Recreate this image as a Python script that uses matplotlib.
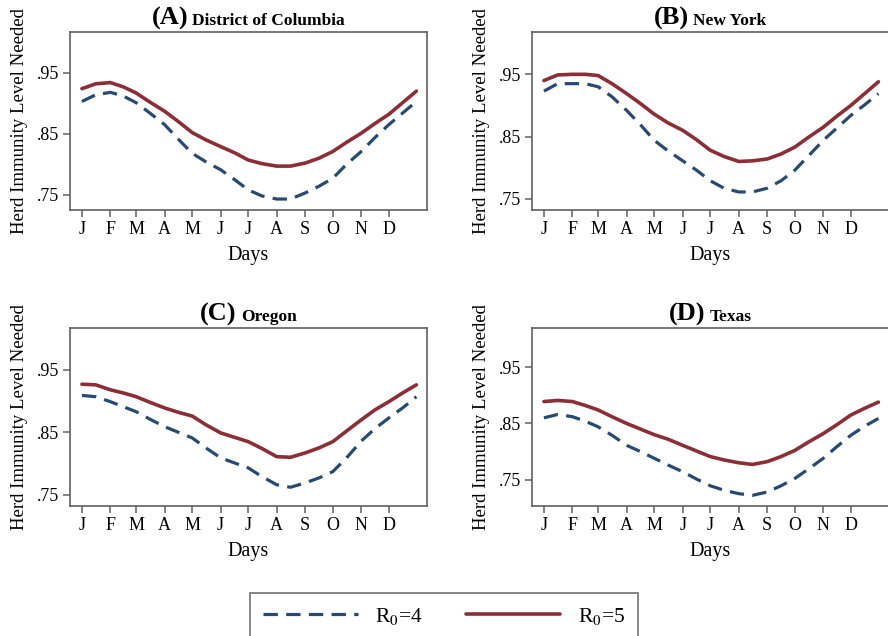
import matplotlib
matplotlib.use('Agg')
import matplotlib.pyplot as plt
from matplotlib.offsetbox import TextArea, HPacker, AnchoredOffsetbox

plt.rcParams['font.family'] = ['Liberation Serif', 'DejaVu Serif']
plt.rcParams['mathtext.fontset'] = 'stix'

# day of year for each reading (start and middle of each month, then year end)
days = [1, 16, 32, 46, 60, 75, 91, 106, 121, 136, 152, 167, 182,
        197, 213, 228, 244, 259, 274, 289, 305, 320, 335, 350, 365]
month_ticks = [1, 32, 60, 91, 121, 152, 182, 213, 244, 274, 305, 335]
month_labels = ['J', 'F', 'M', 'A', 'M', 'J', 'J', 'A', 'S', 'O', 'N', 'D']

# herd immunity needed, R0 = 4 (dashed) and R0 = 5 (solid)
dc_r4 = [0.903, 0.914, 0.918, 0.912, 0.901, 0.884, 0.865, 0.841, 0.818, 0.804, 0.791, 0.775, 0.758,
         0.748, 0.743, 0.743, 0.753, 0.764, 0.777, 0.800, 0.821, 0.844, 0.865, 0.884, 0.903]
dc_r5 = [0.924, 0.932, 0.934, 0.927, 0.917, 0.902, 0.887, 0.870, 0.852, 0.840, 0.829, 0.819, 0.807,
         0.801, 0.797, 0.797, 0.802, 0.810, 0.821, 0.836, 0.851, 0.867, 0.882, 0.901, 0.920]
ny_r4 = [0.923, 0.935, 0.935, 0.935, 0.930, 0.914, 0.892, 0.869, 0.844, 0.827, 0.811, 0.796, 0.779,
         0.767, 0.761, 0.761, 0.767, 0.779, 0.796, 0.819, 0.844, 0.864, 0.884, 0.901, 0.919]
ny_r5 = [0.940, 0.949, 0.950, 0.950, 0.948, 0.935, 0.919, 0.903, 0.886, 0.872, 0.860, 0.845, 0.828,
         0.818, 0.810, 0.811, 0.814, 0.822, 0.833, 0.849, 0.865, 0.883, 0.900, 0.919, 0.938]
or_r4 = [0.909, 0.907, 0.899, 0.891, 0.883, 0.871, 0.859, 0.850, 0.841, 0.825, 0.809, 0.801, 0.793,
         0.779, 0.766, 0.762, 0.769, 0.777, 0.787, 0.809, 0.836, 0.856, 0.873, 0.889, 0.907]
or_r5 = [0.927, 0.926, 0.918, 0.913, 0.907, 0.898, 0.889, 0.882, 0.876, 0.862, 0.849, 0.842, 0.835,
         0.824, 0.811, 0.810, 0.817, 0.825, 0.835, 0.852, 0.870, 0.886, 0.899, 0.913, 0.926]
tx_r4 = [0.860, 0.866, 0.862, 0.854, 0.844, 0.829, 0.811, 0.800, 0.788, 0.776, 0.764, 0.751, 0.739,
         0.731, 0.725, 0.722, 0.728, 0.739, 0.752, 0.769, 0.788, 0.809, 0.829, 0.845, 0.859]
tx_r5 = [0.889, 0.891, 0.889, 0.882, 0.874, 0.862, 0.850, 0.840, 0.830, 0.822, 0.811, 0.801, 0.791,
         0.785, 0.780, 0.777, 0.782, 0.791, 0.802, 0.817, 0.832, 0.848, 0.865, 0.877, 0.888]

panels = [
    ('(A)', 'District of Columbia', dc_r4, dc_r5, (0.725, 1.017)),
    ('(B)', 'New York', ny_r4, ny_r5, (0.732, 1.018)),
    ('(C)', 'Oregon', or_r4, or_r5, (0.732, 1.017)),
    ('(D)', 'Texas', tx_r4, tx_r5, (0.703, 1.02)),
]
positions = [
    [0.0788, 0.6698, 0.4015, 0.2799],
    [0.5991, 0.6698, 0.4015, 0.2799],
    [0.0788, 0.2044, 0.4015, 0.2799],
    [0.5991, 0.2044, 0.4015, 0.2799],
]

blue = '#284a70'
red = '#8a2f38'
frame = '#606060'

fig = plt.figure(figsize=(8.88, 6.36), dpi=100)

for (tag, name, r4, r5, ylim), pos in zip(panels, positions):
    ax = fig.add_axes(pos)
    l4, = ax.plot(days, r4, color=blue, lw=2.3, dashes=(4.5, 2.6),
                  dash_joinstyle='round', label=r'R$_0$=4')
    l5, = ax.plot(days, r5, color=red, lw=2.6, solid_joinstyle='round',
                  solid_capstyle='round', label=r'R$_0$=5')
    ax.set_xlim(-12, 376)
    ax.set_ylim(*ylim)
    ax.set_xticks(month_ticks)
    ax.set_xticklabels(month_labels)
    ax.set_yticks([0.75, 0.85, 0.95])
    ax.set_yticklabels(['.75', '.85', '.95'])
    ax.tick_params(axis='both', direction='out', length=5, width=1.1,
                   color=frame, labelsize=13, pad=3)
    for s in ax.spines.values():
        s.set_color(frame)
        s.set_linewidth(1.2)
    ax.set_xlabel('Days', fontsize=14.5, labelpad=6)
    ax.set_ylabel('Herd Immunity Level Needed', fontsize=13.5, labelpad=6)

    # two-size bold title: big panel letter, smaller state name
    t1 = TextArea(tag, textprops=dict(size=19, weight='bold'))
    t2 = TextArea(name, textprops=dict(size=12.5, weight='bold'))
    box = HPacker(children=[t1, t2], align='baseline', pad=0, sep=3)
    anchored = AnchoredOffsetbox(loc='lower center', child=box, pad=0, borderpad=0,
                                 frameon=False, bbox_to_anchor=(0.5, 1.01),
                                 bbox_transform=ax.transAxes)
    ax.add_artist(anchored)

leg = fig.legend(handles=[l4, l5], loc='upper center', bbox_to_anchor=(0.5, 0.085),
                 ncol=2, fontsize=15.5, handlelength=4.4, columnspacing=2.0,
                 handletextpad=0.8, borderpad=0.6, fancybox=False, frameon=True)
leg.get_frame().set_edgecolor('#505050')
leg.get_frame().set_linewidth(1.2)

fig.savefig('out.png', dpi=100, facecolor='white')
